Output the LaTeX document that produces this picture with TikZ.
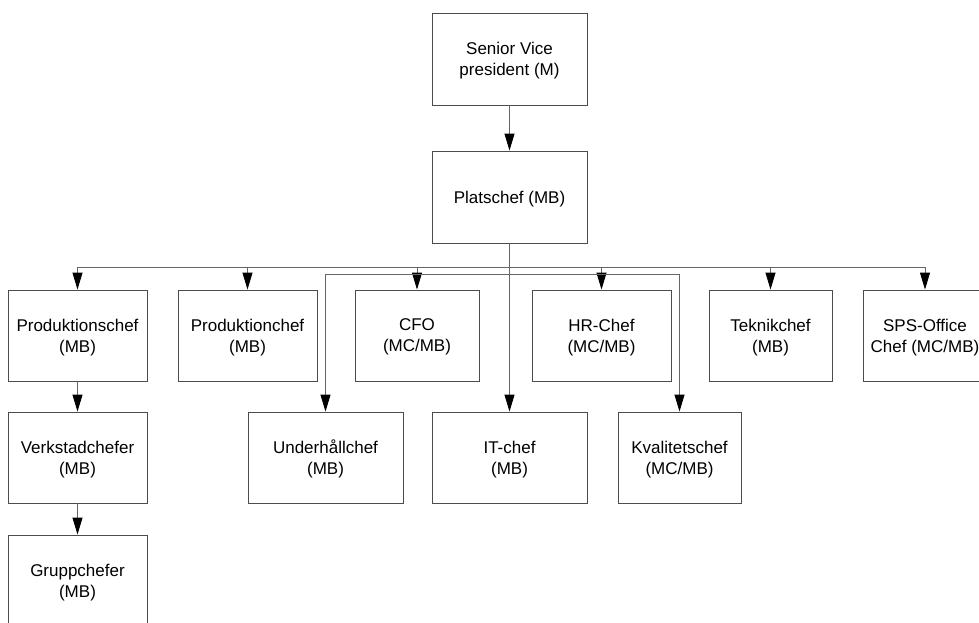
\documentclass[tikz,border=0pt]{standalone}
\usepackage{fontspec}
\setmainfont{Liberation Sans}
\usetikzlibrary{arrows.meta}
\tikzset{
  box/.style={draw=black!70, line width=0.9pt, fill=white, align=center, inner sep=0pt,
    text depth=-5pt, font=\fontsize{17}{21}\selectfont},
  r1/.style={box, minimum height=91pt},
  conn/.style={draw=black!60, line width=0.9pt,
    -{Triangle[length=17pt,width=10pt,color=black,fill=black]}},
}
\begin{document}
\begin{tikzpicture}[x=1pt,y=-1pt]
\useasboundingbox (0,0) rectangle (979,623);
\fill[white] (0,0) rectangle (979,623);
\begin{scope}
\clip (0,0) rectangle (979,623);
\node[box, minimum width=155pt, minimum height=92pt] (svp) at (509.5,59) {Senior Vice\\president (M)};
\node[box, minimum width=155pt, minimum height=92pt] (plat) at (509.5,197) {Platschef (MB)};
\node[r1, minimum width=139pt] (pc1) at (77.5,335.5) {Produktionschef\\(MB)};
\node[r1, minimum width=139pt] (pc2) at (247.5,335.5) {Produktionchef\\(MB)};
\node[r1, minimum width=124pt] (cfo) at (417,335.5) {CFO\\(MC/MB)};
\node[r1, minimum width=139pt] (hr) at (601.5,335.5) {HR-Chef\\(MC/MB)};
\node[r1, minimum width=123pt] (tek) at (770.5,335.5) {Teknikchef\\(MB)};
\node[r1, minimum width=124pt] (sps) at (925,335.5) {SPS-Office\\Chef (MC/MB)};
\node[r1, minimum width=139pt] (verk) at (77.5,457.5) {Verkstadchefer\\(MB)};
\node[r1, minimum width=155pt] (under) at (325.5,457.5) {Underhållchef\\(MB)};
\node[r1, minimum width=155pt] (it) at (509.5,457.5) {IT-chef\\(MB)};
\node[r1, minimum width=123pt] (kval) at (679.5,457.5) {Kvalitetschef\\(MC/MB)};
\node[r1, minimum width=139pt] (grupp) at (77.5,580.5) {Gruppchefer\\(MB)};
\coordinate (bus1) at (509.5,267);
\coordinate (bus2) at (509.5,274);
\end{scope}
\draw[conn] (svp) -- (plat);
\draw[conn] (plat.south) -- (bus1) -| (pc1.north);
\draw[conn] (plat.south) -- (bus1) -| (pc2.north);
\draw[conn] (plat.south) -- (bus1) -| (cfo.north);
\draw[conn] (plat.south) -- (bus1) -| (hr.north);
\draw[conn] (plat.south) -- (bus1) -| (tek.north);
\draw[conn] (plat.south) -- (bus1) -| (sps.north);
\draw[conn] (plat.south) -- (bus2) -| (under.north);
\draw[conn] (plat.south) -- (bus2) -| (kval.north);
\draw[conn] (plat) -- (it);
\draw[conn] (pc1) -- (verk);
\draw[conn] (verk) -- (grupp);
\end{tikzpicture}
\end{document}
